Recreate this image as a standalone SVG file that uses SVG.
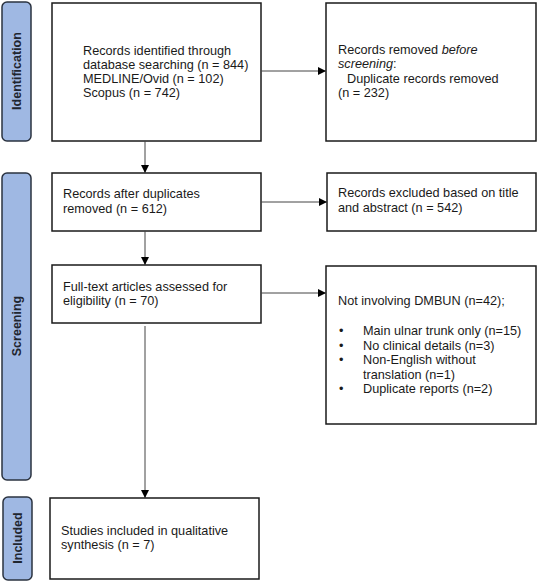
<svg xmlns="http://www.w3.org/2000/svg" width="538" height="582" viewBox="0 0 538 582">
<style>
.box{fill:#fff;stroke:#1a1a1a;stroke-width:1.5}
.side{fill:#9fb8e3;stroke:#2b3340;stroke-width:1.5}
.t{font-family:"Liberation Sans",Arial,sans-serif;font-size:12.7px;fill:#1a1a1a}
.s{font-family:"Liberation Sans",Arial,sans-serif;font-size:12.5px;font-weight:bold;fill:#1f2630}
.c{stroke:#444;stroke-width:1;fill:none;marker-end:url(#ah)}
</style>
<defs>
<marker id="ah" viewBox="0 0 10 10" refX="10" refY="5" markerWidth="8" markerHeight="8" markerUnits="userSpaceOnUse" orient="auto">
<path d="M0,0L10,5L0,10z" fill="#000"/>
</marker>
</defs>
<rect width="538" height="582" fill="#fff"/>
<g id="phase-identification">
<rect class="side" x="2" y="2" width="29" height="139" rx="5"/>
<text class="s" transform="translate(21,71) rotate(-90)" text-anchor="middle">Identification</text>
</g>
<g id="phase-screening">
<rect class="side" x="2" y="173" width="29" height="307" rx="5"/>
<text class="s" transform="translate(21,326) rotate(-90)" text-anchor="middle">Screening</text>
</g>
<g id="phase-included">
<rect class="side" x="3" y="497" width="29" height="83" rx="5"/>
<text class="s" transform="translate(22,538) rotate(-90)" text-anchor="middle">Included</text>
</g>
<g id="identified">
<rect class="box" x="52" y="3" width="209" height="138"/>
<text class="t" x="83" y="55">Records identified through</text>
<text class="t" x="83" y="69">database searching (n = 844)</text>
<text class="t" x="83" y="83">MEDLINE/Ovid (n = 102)</text>
<text class="t" x="83" y="97">Scopus (n = 742)</text>
</g>
<g id="removed">
<rect class="box" x="326" y="3" width="210" height="138"/>
<text class="t" x="338" y="54">Records removed <tspan font-style="italic">before</tspan></text>
<text class="t" x="338" y="68"><tspan font-style="italic">screening</tspan>:</text>
<text class="t" x="347" y="83">Duplicate records removed</text>
<text class="t" x="338" y="97">(n = 232)</text>
</g>
<g id="after-duplicates">
<rect class="box" x="52" y="173" width="209" height="58"/>
<text class="t" x="63" y="198">Records after duplicates</text>
<text class="t" x="63" y="213">removed (n = 612)</text>
</g>
<g id="excluded-title">
<rect class="box" x="327" y="173" width="209" height="58"/>
<text class="t" x="338" y="197">Records excluded based on title</text>
<text class="t" x="338" y="212">and abstract (n = 542)</text>
</g>
<g id="fulltext">
<rect class="box" x="52" y="265" width="209" height="58"/>
<text class="t" x="63" y="291">Full-text articles assessed for</text>
<text class="t" x="63" y="305">eligibility (n = 70)</text>
</g>
<g id="excluded-fulltext">
<rect class="box" x="326" y="266" width="210" height="158"/>
<text class="t" x="338" y="305">Not involving DMBUN (n=42);</text>
<text class="t" x="339" y="335">•</text>
<text class="t" x="363" y="335">Main ulnar trunk only (n=15)</text>
<text class="t" x="339" y="349.5">•</text>
<text class="t" x="363" y="349.5">No clinical details (n=3)</text>
<text class="t" x="339" y="364">•</text>
<text class="t" x="363" y="364">Non-English without</text>
<text class="t" x="363" y="378.5">translation (n=1)</text>
<text class="t" x="339" y="393">•</text>
<text class="t" x="363" y="393">Duplicate reports (n=2)</text>
</g>
<g id="included">
<rect class="box" x="50" y="498" width="209" height="81"/>
<text class="t" x="61" y="535">Studies included in qualitative</text>
<text class="t" x="61" y="549">synthesis (n = 7)</text>
</g>
<g id="connectors">
<line class="c" x1="261" y1="71" x2="326" y2="71"/>
<line class="c" x1="145" y1="141" x2="145" y2="173"/>
<line class="c" x1="261" y1="202" x2="327" y2="202"/>
<line class="c" x1="145" y1="231" x2="145" y2="265"/>
<line class="c" x1="261" y1="293" x2="326" y2="293"/>
<line class="c" x1="145" y1="326" x2="145" y2="498"/>
</g>
</svg>
